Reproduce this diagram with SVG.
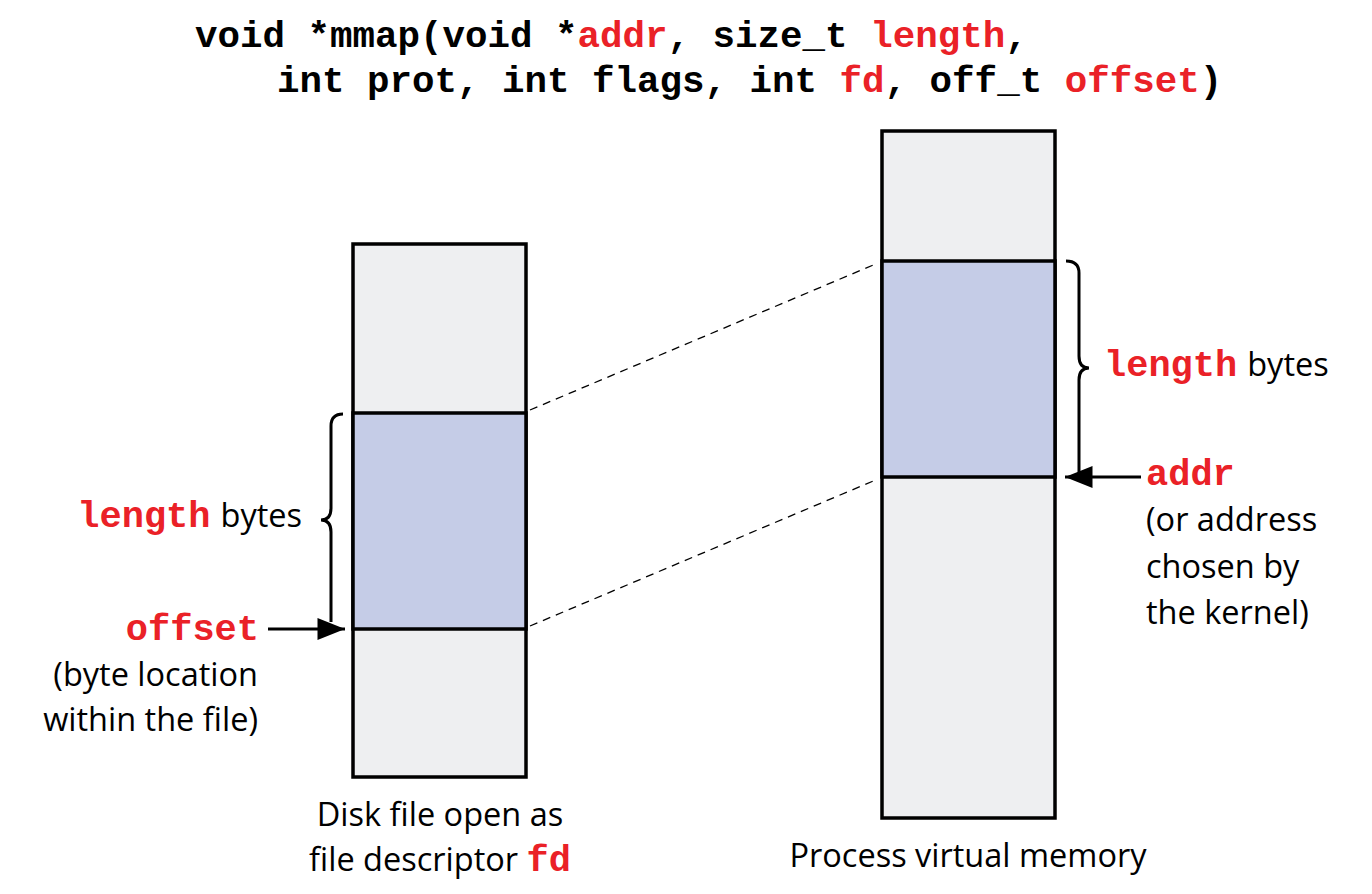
<svg xmlns="http://www.w3.org/2000/svg" width="1372" height="894" viewBox="0 0 1372 894">
<style>
.code{font-family:"Liberation Mono","Courier New",monospace;font-weight:bold;font-size:37.5px;fill:#000}
.red{fill:#ea2127}
.lbl{font-family:"Open Sans","Liberation Sans",sans-serif;font-size:32.5px;fill:#000}
.mono{font-family:"Liberation Mono","Courier New",monospace;font-weight:bold;font-size:37px}
.box{stroke:#000;stroke-width:3.5}
.gray{fill:#eeeff1}
.blue{fill:#c5cce7}
.dash{stroke:#000;stroke-width:1.3;stroke-dasharray:8 6;fill:none}
.ln{stroke:#000;stroke-width:3;fill:none}
</style>
<defs>
<marker id="ah2" viewBox="0 0 10 8" markerWidth="28" markerHeight="22" refX="10" refY="4" orient="auto" markerUnits="userSpaceOnUse">
<path d="M0,0 L10,4 L0,8 z" fill="#000"/>
</marker>
</defs>
<g id="title">
<text class="code" x="195" y="47" xml:space="preserve">void *mmap(void *<tspan class="red">addr</tspan>, size_t <tspan class="red">length</tspan>,</text>
<text class="code" x="277" y="92" xml:space="preserve">int prot, int flags, int <tspan class="red">fd</tspan>, off_t <tspan class="red">offset</tspan>)</text>
</g>
<g id="disk-file">
<rect class="box gray" x="353" y="244" width="173" height="533"/>
<rect class="box blue" x="353" y="413" width="173" height="216"/>
<text class="lbl" x="440" y="826" text-anchor="middle">Disk file open as</text>
<text class="lbl" x="440" y="871" text-anchor="middle">file descriptor <tspan class="mono red">fd</tspan></text>
</g>
<g id="virtual-memory">
<rect class="box gray" x="882" y="131" width="173" height="687"/>
<rect class="box blue" x="882" y="261" width="173" height="216"/>
<text class="lbl" x="968" y="867" text-anchor="middle">Process virtual memory</text>
</g>
<g id="left-labels">
<text x="302" y="527" text-anchor="end"><tspan class="mono red">length</tspan><tspan class="lbl" dx="10">bytes</tspan></text>
<text class="mono red" x="259" y="640" text-anchor="end">offset</text>
<text class="lbl" x="258" y="686" text-anchor="end">(byte location</text>
<text class="lbl" x="258" y="731" text-anchor="end">within the file)</text>
</g>
<g id="right-labels">
<text x="1104" y="376"><tspan class="mono red">length</tspan><tspan class="lbl" dx="10">bytes</tspan></text>
<text class="mono red" x="1146" y="485">addr</text>
<text class="lbl" x="1146" y="531">(or address</text>
<text class="lbl" x="1146" y="578">chosen by</text>
<text class="lbl" x="1146" y="624">the kernel)</text>
</g>
<g id="connectors">
<line class="dash" x1="530" y1="410" x2="878" y2="263"/>
<line class="dash" x1="530" y1="626" x2="878" y2="479"/>
<path class="ln" d="M343,414 Q331,414 331,426 L331,508 Q331,520 321,520 Q331,520 331,532 L331,622"/>
<line class="ln" x1="268" y1="629" x2="345" y2="629" marker-end="url(#ah2)"/>
<path class="ln" d="M1066,261 Q1079,261 1079,273 L1079,356 Q1079,368 1089,368 Q1079,368 1079,380 L1079,472"/>
<line class="ln" x1="1141" y1="477" x2="1065" y2="477" marker-end="url(#ah2)"/>
</g>
</svg>
